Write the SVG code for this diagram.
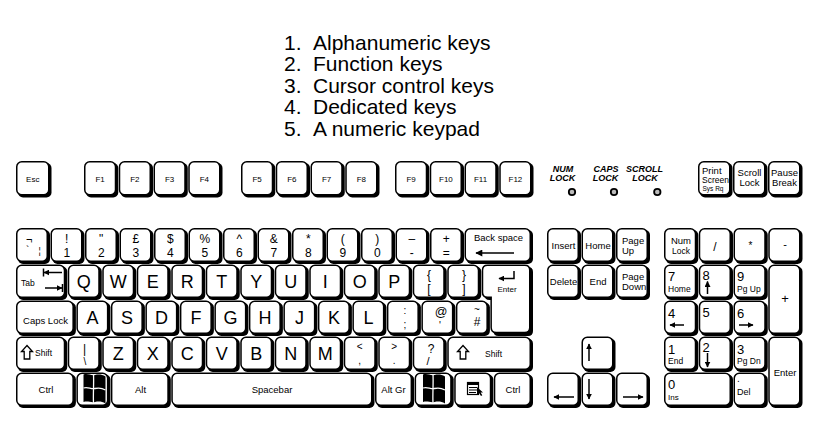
<svg xmlns="http://www.w3.org/2000/svg" xmlns:xlink="http://www.w3.org/1999/xlink" width="834" height="446" viewBox="0 0 834 446">
<style>
.s{fill:#000}
.f{fill:#fff;stroke:#000;stroke-width:1.5}
text{font-family:"Liberation Sans",Arial,sans-serif;fill:#000}
.c{text-anchor:middle}
.l{font-size:18px;text-anchor:middle}
.d{font-size:12px;text-anchor:middle}
.m{font-size:9.5px}
.sm{font-size:8px}
.n{font-size:13px}
.ar{stroke:#000;stroke-width:1.5;fill:none}
.ti{font-size:21px}
.ind{font-size:9px;font-weight:bold;font-style:italic;text-anchor:middle}
</style>
<defs>
<marker id="ah" viewBox="0 0 10 10" refX="9" refY="5" markerWidth="6" markerHeight="6" markerUnits="userSpaceOnUse" orient="auto"><path d="M0,0 L10,5 L0,10 z"/></marker>
<marker id="ahL" viewBox="0 0 10 10" refX="9" refY="5" markerWidth="10" markerHeight="7" markerUnits="userSpaceOnUse" orient="auto"><path d="M0,0 L10,5 L0,10 z"/></marker>
<g id="winlogo">
<path d="M83.5,374.5 C88,373 91,376 95,375 C99,374 102,374.5 105.5,376.5 L105.5,403.5 C102,401.5 99,401 95,402 C91,403 88,400.5 83.5,402 Z" fill="#000"/>
<path d="M93.5,374.5 C94,384 93,394 93.5,403" stroke="#fff" stroke-width="1.3" fill="none"/>
<path d="M83.5,388 C88,386.5 91,389.5 95,388.5 C99,387.5 102,388 105.5,390" stroke="#fff" stroke-width="1.3" fill="none"/>
</g>
</defs>
<rect width="834" height="446" fill="#fff"/>

<g id="title">
<text class="ti" x="284" y="49.5">1.</text><text class="ti" x="313" y="49.5">Alphanumeric keys</text>
<text class="ti" x="284" y="71">2.</text><text class="ti" x="313" y="71">Function keys</text>
<text class="ti" x="284" y="92.5">3.</text><text class="ti" x="313" y="92.5">Cursor control keys</text>
<text class="ti" x="284" y="114">4.</text><text class="ti" x="313" y="114">Dedicated keys</text>
<text class="ti" x="284" y="135.5">5.</text><text class="ti" x="313" y="135.5">A numeric keypad</text>
</g>

<g id="function-keys">
<g id="key-esc"><rect class="s" x="18" y="163" width="33.5" height="34.5" rx="5"/><rect class="f" x="16.75" y="161.75" width="32" height="33" rx="5"/><text class="sm c" x="32.75" y="181.5">Esc</text></g>
<g id="key-f1"><rect class="s" x="86" y="163" width="32.25" height="34.5" rx="5"/><rect class="f" x="84.75" y="161.75" width="30.75" height="33" rx="5"/><text class="sm c" x="100.1" y="181.5">F1</text></g>
<g id="key-f2"><rect class="s" x="120.75" y="163" width="32.25" height="34.5" rx="5"/><rect class="f" x="119.5" y="161.75" width="30.75" height="33" rx="5"/><text class="sm c" x="134.9" y="181.5">F2</text></g>
<g id="key-f3"><rect class="s" x="155.5" y="163" width="32.25" height="34.5" rx="5"/><rect class="f" x="154.25" y="161.75" width="30.75" height="33" rx="5"/><text class="sm c" x="169.6" y="181.5">F3</text></g>
<g id="key-f4"><rect class="s" x="190.25" y="163" width="32.25" height="34.5" rx="5"/><rect class="f" x="189" y="161.75" width="30.75" height="33" rx="5"/><text class="sm c" x="204.4" y="181.5">F4</text></g>
<g id="key-f5"><rect class="s" x="243" y="163" width="32.25" height="34.5" rx="5"/><rect class="f" x="241.75" y="161.75" width="30.75" height="33" rx="5"/><text class="sm c" x="257.1" y="181.5">F5</text></g>
<g id="key-f6"><rect class="s" x="277.75" y="163" width="32.25" height="34.5" rx="5"/><rect class="f" x="276.5" y="161.75" width="30.75" height="33" rx="5"/><text class="sm c" x="291.9" y="181.5">F6</text></g>
<g id="key-f7"><rect class="s" x="312.5" y="163" width="32.25" height="34.5" rx="5"/><rect class="f" x="311.25" y="161.75" width="30.75" height="33" rx="5"/><text class="sm c" x="326.6" y="181.5">F7</text></g>
<g id="key-f8"><rect class="s" x="347.25" y="163" width="32.25" height="34.5" rx="5"/><rect class="f" x="346" y="161.75" width="30.75" height="33" rx="5"/><text class="sm c" x="361.4" y="181.5">F8</text></g>
<g id="key-f9"><rect class="s" x="397" y="163" width="32.25" height="34.5" rx="5"/><rect class="f" x="395.75" y="161.75" width="30.75" height="33" rx="5"/><text class="sm c" x="411.1" y="181.5">F9</text></g>
<g id="key-f10"><rect class="s" x="431.75" y="163" width="32.25" height="34.5" rx="5"/><rect class="f" x="430.5" y="161.75" width="30.75" height="33" rx="5"/><text class="sm c" x="445.9" y="181.5">F10</text></g>
<g id="key-f11"><rect class="s" x="466.5" y="163" width="32.25" height="34.5" rx="5"/><rect class="f" x="465.25" y="161.75" width="30.75" height="33" rx="5"/><text class="sm c" x="480.6" y="181.5">F11</text></g>
<g id="key-f12"><rect class="s" x="501.25" y="163" width="32.25" height="34.5" rx="5"/><rect class="f" x="500" y="161.75" width="30.75" height="33" rx="5"/><text class="sm c" x="515.4" y="181.5">F12</text></g>
</g>

<g id="lock-indicators">
<text class="ind" x="563" y="172">NUM</text><text class="ind" x="562.5" y="181">LOCK</text>
<text class="ind" x="606" y="172">CAPS</text><text class="ind" x="605.5" y="181">LOCK</text>
<text class="ind" x="644.5" y="172">SCROLL</text><text class="ind" x="645" y="181">LOCK</text>
<circle cx="572" cy="192" r="3.2" fill="#bbb" stroke="#000" stroke-width="1.8"/>
<circle cx="614" cy="192" r="3.2" fill="#bbb" stroke="#000" stroke-width="1.8"/>
<circle cx="657.3" cy="192" r="3.2" fill="#bbb" stroke="#000" stroke-width="1.8"/>
</g>

<g id="dedicated-top">
<g id="key-print"><rect class="s" x="700" y="163" width="32.5" height="34.5" rx="5"/><rect class="f" x="698.75" y="161.75" width="31" height="33" rx="5"/><text class="m" x="702" y="174">Print</text><text style="font-size:8.5px" x="702" y="183">Screen</text><text style="font-size:6.5px" x="702.5" y="190.5">Sys Rq</text></g>
<g id="key-scroll"><rect class="s" x="735" y="163" width="32.5" height="34.5" rx="5"/><rect class="f" x="733.75" y="161.75" width="31" height="33" rx="5"/><text class="m c" x="749.5" y="176">Scroll</text><text class="m c" x="749.5" y="186">Lock</text></g>
<g id="key-pause"><rect class="s" x="770" y="163" width="32.5" height="34.5" rx="5"/><rect class="f" x="768.75" y="161.75" width="31" height="33" rx="5"/><text class="m c" x="784.5" y="176">Pause</text><text class="m c" x="784.5" y="186">Break</text></g>
</g>

<g id="alphanumeric-keys">
<g id="key-backtick"><rect class="s" x="18" y="230" width="32" height="34" rx="5"/><rect class="f" x="16.75" y="228.75" width="30.5" height="32.5" rx="5"/><text style="font-size:11px" x="26" y="243">¬</text><text style="font-size:10px" x="26" y="254">`</text><text style="font-size:9px" x="38.5" y="254">¦</text></g>
<g id="key-1"><rect class="s" x="52.5" y="230" width="32" height="34" rx="5"/><rect class="f" x="51.25" y="228.75" width="30.5" height="32.5" rx="5"/><text class="d" x="66.75" y="243">!</text><text class="d" x="66.75" y="257">1</text></g>
<g id="key-2"><rect class="s" x="87" y="230" width="32" height="34" rx="5"/><rect class="f" x="85.75" y="228.75" width="30.5" height="32.5" rx="5"/><text class="d" x="101.25" y="243">"</text><text class="d" x="101.25" y="257">2</text></g>
<g id="key-3"><rect class="s" x="121.5" y="230" width="32" height="34" rx="5"/><rect class="f" x="120.25" y="228.75" width="30.5" height="32.5" rx="5"/><text class="d" x="135.75" y="243">£</text><text class="d" x="135.75" y="257">3</text></g>
<g id="key-4"><rect class="s" x="156" y="230" width="32" height="34" rx="5"/><rect class="f" x="154.75" y="228.75" width="30.5" height="32.5" rx="5"/><text class="d" x="170.25" y="243">$</text><text class="d" x="170.25" y="257">4</text></g>
<g id="key-5"><rect class="s" x="190.5" y="230" width="32" height="34" rx="5"/><rect class="f" x="189.25" y="228.75" width="30.5" height="32.5" rx="5"/><text class="d" x="204.75" y="243">%</text><text class="d" x="204.75" y="257">5</text></g>
<g id="key-6"><rect class="s" x="225" y="230" width="32" height="34" rx="5"/><rect class="f" x="223.75" y="228.75" width="30.5" height="32.5" rx="5"/><text class="d" x="239.25" y="243">^</text><text class="d" x="239.25" y="257">6</text></g>
<g id="key-7"><rect class="s" x="259.5" y="230" width="32" height="34" rx="5"/><rect class="f" x="258.25" y="228.75" width="30.5" height="32.5" rx="5"/><text class="d" x="273.75" y="243">&amp;</text><text class="d" x="273.75" y="257">7</text></g>
<g id="key-8"><rect class="s" x="294" y="230" width="32" height="34" rx="5"/><rect class="f" x="292.75" y="228.75" width="30.5" height="32.5" rx="5"/><text class="d" x="308.25" y="243">*</text><text class="d" x="308.25" y="257">8</text></g>
<g id="key-9"><rect class="s" x="328.5" y="230" width="32" height="34" rx="5"/><rect class="f" x="327.25" y="228.75" width="30.5" height="32.5" rx="5"/><text class="d" x="342.75" y="243">(</text><text class="d" x="342.75" y="257">9</text></g>
<g id="key-0"><rect class="s" x="363" y="230" width="32" height="34" rx="5"/><rect class="f" x="361.75" y="228.75" width="30.5" height="32.5" rx="5"/><text class="d" x="377.25" y="243">)</text><text class="d" x="377.25" y="257">0</text></g>
<g id="key-minus"><rect class="s" x="397.5" y="230" width="32" height="34" rx="5"/><rect class="f" x="396.25" y="228.75" width="30.5" height="32.5" rx="5"/><text class="d" x="411.75" y="243">–</text><text class="d" x="411.75" y="257">-</text></g>
<g id="key-equals"><rect class="s" x="432" y="230" width="32" height="34" rx="5"/><rect class="f" x="430.75" y="228.75" width="30.5" height="32.5" rx="5"/><text class="d" x="446.25" y="243">+</text><text class="d" x="446.25" y="257">=</text></g>
<g id="key-backspace"><rect class="s" x="466.5" y="230" width="66.5" height="34" rx="5"/><rect class="f" x="465.25" y="228.75" width="65" height="32.5" rx="5"/><text class="m c" x="498.5" y="241">Back space</text><line class="ar" x1="514" y1="253" x2="476" y2="253" marker-end="url(#ahL)"/></g>
<g id="key-tab"><rect class="s" x="18" y="266.5" width="49.25" height="33.5" rx="5"/><rect class="f" x="16.75" y="265.25" width="47.75" height="32" rx="5"/><text style="font-size:8.5px" x="21" y="286">Tab</text><line class="ar" x1="62" y1="272.5" x2="44" y2="272.5" marker-end="url(#ah)"/><line class="ar" x1="43.5" y1="268.5" x2="43.5" y2="276.5"/><line class="ar" x1="45" y1="288" x2="62" y2="288" marker-end="url(#ah)"/><line class="ar" x1="62.5" y1="284" x2="62.5" y2="292"/></g>
<g id="key-q"><rect class="s" x="69.75" y="266.5" width="32" height="33.5" rx="5"/><rect class="f" x="68.5" y="265.25" width="30.5" height="32" rx="5"/><text class="l" x="83.75" y="287.5">Q</text></g>
<g id="key-w"><rect class="s" x="104.25" y="266.5" width="32" height="33.5" rx="5"/><rect class="f" x="103" y="265.25" width="30.5" height="32" rx="5"/><text class="l" x="118.25" y="287.5">W</text></g>
<g id="key-e"><rect class="s" x="138.75" y="266.5" width="32" height="33.5" rx="5"/><rect class="f" x="137.5" y="265.25" width="30.5" height="32" rx="5"/><text class="l" x="152.75" y="287.5">E</text></g>
<g id="key-r"><rect class="s" x="173.25" y="266.5" width="32" height="33.5" rx="5"/><rect class="f" x="172" y="265.25" width="30.5" height="32" rx="5"/><text class="l" x="187.25" y="287.5">R</text></g>
<g id="key-t"><rect class="s" x="207.75" y="266.5" width="32" height="33.5" rx="5"/><rect class="f" x="206.5" y="265.25" width="30.5" height="32" rx="5"/><text class="l" x="221.75" y="287.5">T</text></g>
<g id="key-y"><rect class="s" x="242.25" y="266.5" width="32" height="33.5" rx="5"/><rect class="f" x="241" y="265.25" width="30.5" height="32" rx="5"/><text class="l" x="256.25" y="287.5">Y</text></g>
<g id="key-u"><rect class="s" x="276.75" y="266.5" width="32" height="33.5" rx="5"/><rect class="f" x="275.5" y="265.25" width="30.5" height="32" rx="5"/><text class="l" x="290.75" y="287.5">U</text></g>
<g id="key-i"><rect class="s" x="311.25" y="266.5" width="32" height="33.5" rx="5"/><rect class="f" x="310" y="265.25" width="30.5" height="32" rx="5"/><text class="l" x="325.25" y="287.5">I</text></g>
<g id="key-o"><rect class="s" x="345.75" y="266.5" width="32" height="33.5" rx="5"/><rect class="f" x="344.5" y="265.25" width="30.5" height="32" rx="5"/><text class="l" x="359.75" y="287.5">O</text></g>
<g id="key-p"><rect class="s" x="380.25" y="266.5" width="32" height="33.5" rx="5"/><rect class="f" x="379" y="265.25" width="30.5" height="32" rx="5"/><text class="l" x="394.25" y="287.5">P</text></g>
<g id="key-lbracket"><rect class="s" x="414.75" y="266.5" width="32" height="33.5" rx="5"/><rect class="f" x="413.5" y="265.25" width="30.5" height="32" rx="5"/><text class="d" x="429" y="279">{</text><text class="d" x="429" y="292.5">[</text></g>
<g id="key-rbracket"><rect class="s" x="449.25" y="266.5" width="32" height="33.5" rx="5"/><rect class="f" x="448" y="265.25" width="30.5" height="32" rx="5"/><text class="d" x="464" y="279">}</text><text class="d" x="464" y="292.5">]</text></g>
<g id="key-enter"><path class="s" d="M489.5 267 H528 Q533 267 533 272 V331 Q533 336 528 336 H498.4 Q493.4 336 493.4 331 V300 H489.5 Q484.5 300 484.5 295 V272 Q484.5 267 489.5 267 Z"/><path class="f" d="M487.5 265.25 H524.75 Q529.75 265.25 529.75 270.25 V327.5 Q529.75 332.5 524.75 332.5 H496.15 Q491.15 332.5 491.15 327.5 V297.25 H487.5 Q482.5 297.25 482.5 292.25 V270.25 Q482.5 265.25 487.5 265.25 Z"/><polyline class="ar" points="514,271 514,278.5 499,278.5" marker-end="url(#ah)"/><text class="sm c" x="507" y="292">Enter</text></g>
<g id="key-caps"><rect class="s" x="18" y="302.5" width="57.9" height="33.5" rx="5"/><rect class="f" x="16.75" y="301.25" width="56.4" height="32" rx="5"/><text class="m c" x="45.5" y="324">Caps Lock</text></g>
<g id="key-a"><rect class="s" x="78.4" y="302.5" width="32" height="33.5" rx="5"/><rect class="f" x="77.15" y="301.25" width="30.5" height="32" rx="5"/><text class="l" x="92.4" y="323.5">A</text></g>
<g id="key-s"><rect class="s" x="112.9" y="302.5" width="32" height="33.5" rx="5"/><rect class="f" x="111.65" y="301.25" width="30.5" height="32" rx="5"/><text class="l" x="126.9" y="323.5">S</text></g>
<g id="key-d"><rect class="s" x="147.4" y="302.5" width="32" height="33.5" rx="5"/><rect class="f" x="146.15" y="301.25" width="30.5" height="32" rx="5"/><text class="l" x="161.4" y="323.5">D</text></g>
<g id="key-f"><rect class="s" x="181.9" y="302.5" width="32" height="33.5" rx="5"/><rect class="f" x="180.65" y="301.25" width="30.5" height="32" rx="5"/><text class="l" x="195.9" y="323.5">F</text></g>
<g id="key-g"><rect class="s" x="216.4" y="302.5" width="32" height="33.5" rx="5"/><rect class="f" x="215.15" y="301.25" width="30.5" height="32" rx="5"/><text class="l" x="230.4" y="323.5">G</text></g>
<g id="key-h"><rect class="s" x="250.9" y="302.5" width="32" height="33.5" rx="5"/><rect class="f" x="249.65" y="301.25" width="30.5" height="32" rx="5"/><text class="l" x="264.9" y="323.5">H</text></g>
<g id="key-j"><rect class="s" x="285.4" y="302.5" width="32" height="33.5" rx="5"/><rect class="f" x="284.15" y="301.25" width="30.5" height="32" rx="5"/><text class="l" x="299.4" y="323.5">J</text></g>
<g id="key-k"><rect class="s" x="319.9" y="302.5" width="32" height="33.5" rx="5"/><rect class="f" x="318.65" y="301.25" width="30.5" height="32" rx="5"/><text class="l" x="333.9" y="323.5">K</text></g>
<g id="key-l"><rect class="s" x="354.4" y="302.5" width="32" height="33.5" rx="5"/><rect class="f" x="353.15" y="301.25" width="30.5" height="32" rx="5"/><text class="l" x="368.4" y="323.5">L</text></g>
<g id="key-semicolon"><rect class="s" x="388.9" y="302.5" width="32" height="33.5" rx="5"/><rect class="f" x="387.65" y="301.25" width="30.5" height="32" rx="5"/><text class="c" style="font-size:10px" x="405" y="314">:</text><text class="c" style="font-size:10px" x="405" y="328">;</text></g>
<g id="key-quote"><rect class="s" x="423.4" y="302.5" width="32" height="33.5" rx="5"/><rect class="f" x="422.15" y="301.25" width="30.5" height="32" rx="5"/><text class="c" style="font-size:12.5px" x="441" y="316">@</text><text class="c" style="font-size:10px" x="440" y="329">'</text></g>
<g id="key-hash"><rect class="s" x="457.9" y="302.5" width="32" height="33.5" rx="5"/><rect class="f" x="456.65" y="301.25" width="30.5" height="32" rx="5"/><text class="c" style="font-size:10px" x="477" y="313">~</text><text class="d" x="477" y="326">#</text></g>
<g id="key-lshift"><rect class="s" x="18" y="338.5" width="49.25" height="33.5" rx="5"/><rect class="f" x="16.75" y="337.25" width="47.75" height="32" rx="5"/><path d="M27,345.5 L32.5,351.5 L29.8,351.5 L29.8,359 L24.2,359 L24.2,351.5 L21.5,351.5 Z" fill="#fff" stroke="#000" stroke-width="1.3"/><text style="font-size:8.5px" x="35" y="356">Shift</text></g>
<g id="key-backslash"><rect class="s" x="69.75" y="338.5" width="32" height="33.5" rx="5"/><rect class="f" x="68.5" y="337.25" width="30.5" height="32" rx="5"/><text class="d" x="84.5" y="353">|</text><text class="c" style="font-size:10px" x="85" y="365">\</text></g>
<g id="key-z"><rect class="s" x="104.25" y="338.5" width="32" height="33.5" rx="5"/><rect class="f" x="103" y="337.25" width="30.5" height="32" rx="5"/><text class="l" x="118.25" y="359.5">Z</text></g>
<g id="key-x"><rect class="s" x="138.75" y="338.5" width="32" height="33.5" rx="5"/><rect class="f" x="137.5" y="337.25" width="30.5" height="32" rx="5"/><text class="l" x="152.75" y="359.5">X</text></g>
<g id="key-c"><rect class="s" x="173.25" y="338.5" width="32" height="33.5" rx="5"/><rect class="f" x="172" y="337.25" width="30.5" height="32" rx="5"/><text class="l" x="187.25" y="359.5">C</text></g>
<g id="key-v"><rect class="s" x="207.75" y="338.5" width="32" height="33.5" rx="5"/><rect class="f" x="206.5" y="337.25" width="30.5" height="32" rx="5"/><text class="l" x="221.75" y="359.5">V</text></g>
<g id="key-b"><rect class="s" x="242.25" y="338.5" width="32" height="33.5" rx="5"/><rect class="f" x="241" y="337.25" width="30.5" height="32" rx="5"/><text class="l" x="256.25" y="359.5">B</text></g>
<g id="key-n"><rect class="s" x="276.75" y="338.5" width="32" height="33.5" rx="5"/><rect class="f" x="275.5" y="337.25" width="30.5" height="32" rx="5"/><text class="l" x="290.75" y="359.5">N</text></g>
<g id="key-m"><rect class="s" x="311.25" y="338.5" width="32" height="33.5" rx="5"/><rect class="f" x="310" y="337.25" width="30.5" height="32" rx="5"/><text class="l" x="325.25" y="359.5">M</text></g>
<g id="key-comma"><rect class="s" x="345.75" y="338.5" width="32" height="33.5" rx="5"/><rect class="f" x="344.5" y="337.25" width="30.5" height="32" rx="5"/><text class="c" style="font-size:10px" x="359.75" y="350">&lt;</text><text class="c" style="font-size:10px" x="359.75" y="364">,</text></g>
<g id="key-period"><rect class="s" x="380.25" y="338.5" width="32" height="33.5" rx="5"/><rect class="f" x="379" y="337.25" width="30.5" height="32" rx="5"/><text class="c" style="font-size:10px" x="394.25" y="350">&gt;</text><text class="c" style="font-size:10px" x="394.25" y="364">.</text></g>
<g id="key-slash"><rect class="s" x="414.75" y="338.5" width="32" height="33.5" rx="5"/><rect class="f" x="413.5" y="337.25" width="30.5" height="32" rx="5"/><text class="d" x="431" y="353">?</text><text class="c" style="font-size:11px" x="428" y="365">/</text></g>
<g id="key-rshift"><rect class="s" x="449.25" y="338.5" width="83.75" height="33.5" rx="5"/><rect class="f" x="448" y="337.25" width="82.25" height="32" rx="5"/><path d="M463,345.5 L468.5,351.5 L465.8,351.5 L465.8,359 L460.2,359 L460.2,351.5 L457.5,351.5 Z" fill="#fff" stroke="#000" stroke-width="1.3"/><text style="font-size:8.5px" x="485" y="357">Shift</text></g>
<g id="key-lctrl"><rect class="s" x="18" y="374.5" width="57.9" height="33.5" rx="5"/><rect class="f" x="16.75" y="373.25" width="56.4" height="32" rx="5"/><text class="m c" x="46" y="393">Ctrl</text></g>
<g id="key-lwin"><rect class="s" x="78.4" y="374.5" width="32" height="33.5" rx="5"/><rect class="f" x="77.15" y="373.25" width="30.5" height="32" rx="5"/><use xlink:href="#winlogo" href="#winlogo"/></g>
<g id="key-alt"><rect class="s" x="112.9" y="374.5" width="57.9" height="33.5" rx="5"/><rect class="f" x="111.65" y="373.25" width="56.4" height="32" rx="5"/><text class="m c" x="140.5" y="393">Alt</text></g>
<g id="key-space"><rect class="s" x="173.3" y="374.5" width="201.2" height="33.5" rx="5"/><rect class="f" x="172.05" y="373.25" width="199.7" height="32" rx="5"/><text class="m c" x="272" y="393">Spacebar</text></g>
<g id="key-altgr"><rect class="s" x="377" y="374.5" width="37.1" height="33.5" rx="5"/><rect class="f" x="375.75" y="373.25" width="35.6" height="32" rx="5"/><text class="m c" x="393.5" y="393">Alt Gr</text></g>
<g id="key-rwin"><rect class="s" x="416.6" y="374.5" width="37.1" height="33.5" rx="5"/><rect class="f" x="415.35" y="373.25" width="35.6" height="32" rx="5"/><use xlink:href="#winlogo" href="#winlogo" x="339.5"/></g>
<g id="key-menu"><rect class="s" x="456.2" y="374.5" width="37.1" height="33.5" rx="5"/><rect class="f" x="454.95" y="373.25" width="35.6" height="32" rx="5"/><rect x="467.5" y="382.5" width="11" height="12" fill="#fff" stroke="#000" stroke-width="1.2"/><rect x="467.5" y="382.5" width="11" height="2.5" fill="#000"/><path d="M469,387.5 H477 M469,390 H477 M469,392.5 H476" stroke="#000" stroke-width="1"/><path d="M477,387 L477,395 L479,393 L481,396 L482.3,395.3 L480.6,392.5 L483,392.5 Z" fill="#000"/></g>
<g id="key-rctrl"><rect class="s" x="495.8" y="374.5" width="37.2" height="33.5" rx="5"/><rect class="f" x="494.55" y="373.25" width="35.7" height="32" rx="5"/><text class="m c" x="513" y="393">Ctrl</text></g>
</g>

<g id="cursor-control-keys">
<g id="key-insert"><rect class="s" x="549" y="230" width="32" height="34" rx="5"/><rect class="f" x="547.75" y="228.75" width="30.5" height="32.5" rx="5"/><text class="m c" x="563.5" y="249">Insert</text></g>
<g id="key-home"><rect class="s" x="583.5" y="230" width="32" height="34" rx="5"/><rect class="f" x="582.25" y="228.75" width="30.5" height="32.5" rx="5"/><text class="m c" x="598" y="249">Home</text></g>
<g id="key-pgup"><rect class="s" x="618" y="230" width="32" height="34" rx="5"/><rect class="f" x="616.75" y="228.75" width="30.5" height="32.5" rx="5"/><text class="m" x="622" y="243.5">Page</text><text class="m" x="622" y="253.5">Up</text></g>
<g id="key-delete"><rect class="s" x="549" y="266.5" width="32" height="33.5" rx="5"/><rect class="f" x="547.75" y="265.25" width="30.5" height="32" rx="5"/><text class="m c" x="563.5" y="285">Delete</text></g>
<g id="key-end"><rect class="s" x="583.5" y="266.5" width="32" height="33.5" rx="5"/><rect class="f" x="582.25" y="265.25" width="30.5" height="32" rx="5"/><text class="m c" x="598" y="285">End</text></g>
<g id="key-pgdn"><rect class="s" x="618" y="266.5" width="32" height="33.5" rx="5"/><rect class="f" x="616.75" y="265.25" width="30.5" height="32" rx="5"/><text class="m" x="622" y="280">Page</text><text class="m" x="622" y="290">Down</text></g>
<g id="key-up"><rect class="s" x="583.5" y="338.5" width="32" height="33.5" rx="5"/><rect class="f" x="582.25" y="337.25" width="30.5" height="32" rx="5"/><line class="ar" x1="589" y1="361" x2="589" y2="344" marker-end="url(#ah)"/></g>
<g id="key-left"><rect class="s" x="549" y="374.5" width="32" height="33.5" rx="5"/><rect class="f" x="547.75" y="373.25" width="30.5" height="32" rx="5"/><line class="ar" x1="574" y1="397" x2="554" y2="397" marker-end="url(#ah)"/></g>
<g id="key-down"><rect class="s" x="583.5" y="374.5" width="32" height="33.5" rx="5"/><rect class="f" x="582.25" y="373.25" width="30.5" height="32" rx="5"/><line class="ar" x1="589" y1="379" x2="589" y2="399" marker-end="url(#ah)"/></g>
<g id="key-right"><rect class="s" x="618" y="374.5" width="32" height="33.5" rx="5"/><rect class="f" x="616.75" y="373.25" width="30.5" height="32" rx="5"/><line class="ar" x1="623" y1="397" x2="643" y2="397" marker-end="url(#ah)"/></g>
</g>

<g id="numeric-keypad">
<g id="key-numlock"><rect class="s" x="666" y="230" width="32.25" height="34" rx="5"/><rect class="f" x="664.75" y="228.75" width="30.75" height="32.5" rx="5"/><text class="m c" x="681" y="244">Num</text><text class="c" style="font-size:8.5px" x="681" y="254">Lock</text></g>
<g id="key-kp-div"><rect class="s" x="700.75" y="230" width="32.25" height="34" rx="5"/><rect class="f" x="699.5" y="228.75" width="30.75" height="32.5" rx="5"/><text class="d" x="715" y="251">/</text></g>
<g id="key-kp-mul"><rect class="s" x="735.5" y="230" width="32.25" height="34" rx="5"/><rect class="f" x="734.25" y="228.75" width="30.75" height="32.5" rx="5"/><text class="c" style="font-size:10px" x="750.5" y="249">*</text></g>
<g id="key-kp-sub"><rect class="s" x="770.25" y="230" width="32.25" height="34" rx="5"/><rect class="f" x="769" y="228.75" width="30.75" height="32.5" rx="5"/><text class="c" style="font-size:11px" x="785" y="248">-</text></g>
<g id="key-kp7"><rect class="s" x="666" y="266.5" width="32.25" height="33.5" rx="5"/><rect class="f" x="664.75" y="265.25" width="30.75" height="32" rx="5"/><text class="n" x="668" y="281">7</text><text style="font-size:8.5px" x="668" y="291.5">Home</text></g>
<g id="key-kp8"><rect class="s" x="700.75" y="266.5" width="32.25" height="33.5" rx="5"/><rect class="f" x="699.5" y="265.25" width="30.75" height="32" rx="5"/><text class="n" x="702.5" y="280">8</text><line class="ar" x1="707.5" y1="294" x2="707.5" y2="281.5" marker-end="url(#ah)"/></g>
<g id="key-kp9"><rect class="s" x="735.5" y="266.5" width="32.25" height="33.5" rx="5"/><rect class="f" x="734.25" y="265.25" width="30.75" height="32" rx="5"/><text class="n" x="737" y="281">9</text><text style="font-size:8.5px" x="737" y="291.5">Pg Up</text></g>
<g id="key-kp-add"><rect class="s" x="770.25" y="266.5" width="32.25" height="69.5" rx="5"/><rect class="f" x="769" y="265.25" width="30.75" height="68" rx="5"/><text class="c" style="font-size:13px" x="785" y="303">+</text></g>
<g id="key-kp4"><rect class="s" x="666" y="302.5" width="32.25" height="33.5" rx="5"/><rect class="f" x="664.75" y="301.25" width="30.75" height="32" rx="5"/><text class="n" x="668" y="317.5">4</text><line class="ar" x1="684" y1="325" x2="670" y2="325" marker-end="url(#ah)"/></g>
<g id="key-kp5"><rect class="s" x="700.75" y="302.5" width="32.25" height="33.5" rx="5"/><rect class="f" x="699.5" y="301.25" width="30.75" height="32" rx="5"/><text class="n" x="702.5" y="317">5</text></g>
<g id="key-kp6"><rect class="s" x="735.5" y="302.5" width="32.25" height="33.5" rx="5"/><rect class="f" x="734.25" y="301.25" width="30.75" height="32" rx="5"/><text class="n" x="737" y="317.5">6</text><line class="ar" x1="739" y1="325" x2="753" y2="325" marker-end="url(#ah)"/></g>
<g id="key-kp1"><rect class="s" x="666" y="338.5" width="32.25" height="33.5" rx="5"/><rect class="f" x="664.75" y="337.25" width="30.75" height="32" rx="5"/><text class="n" x="668" y="353.5">1</text><text style="font-size:8.5px" x="668" y="363.5">End</text></g>
<g id="key-kp2"><rect class="s" x="700.75" y="338.5" width="32.25" height="33.5" rx="5"/><rect class="f" x="699.5" y="337.25" width="30.75" height="32" rx="5"/><text class="n" x="702.5" y="352">2</text><line class="ar" x1="707.5" y1="353" x2="707.5" y2="367" marker-end="url(#ah)"/></g>
<g id="key-kp3"><rect class="s" x="735.5" y="338.5" width="32.25" height="33.5" rx="5"/><rect class="f" x="734.25" y="337.25" width="30.75" height="32" rx="5"/><text class="n" x="737" y="353.5">3</text><text style="font-size:8.5px" x="737" y="363.5">Pg Dn</text></g>
<g id="key-kp-enter"><rect class="s" x="770.25" y="338.5" width="32.25" height="69.5" rx="5"/><rect class="f" x="769" y="337.25" width="30.75" height="68" rx="5"/><text class="m c" x="785" y="376">Enter</text></g>
<g id="key-kp0"><rect class="s" x="666" y="374.5" width="67" height="33.5" rx="5"/><rect class="f" x="664.75" y="373.25" width="65.5" height="32" rx="5"/><text class="n" x="668" y="389">0</text><text class="sm" x="668" y="400">Ins</text></g>
<g id="key-kp-dot"><rect class="s" x="735.5" y="374.5" width="32.25" height="33.5" rx="5"/><rect class="f" x="734.25" y="373.25" width="30.75" height="32" rx="5"/><text style="font-size:10px" x="737" y="382">.</text><text style="font-size:9px" x="737" y="395">Del</text></g>
</g>
</svg>
